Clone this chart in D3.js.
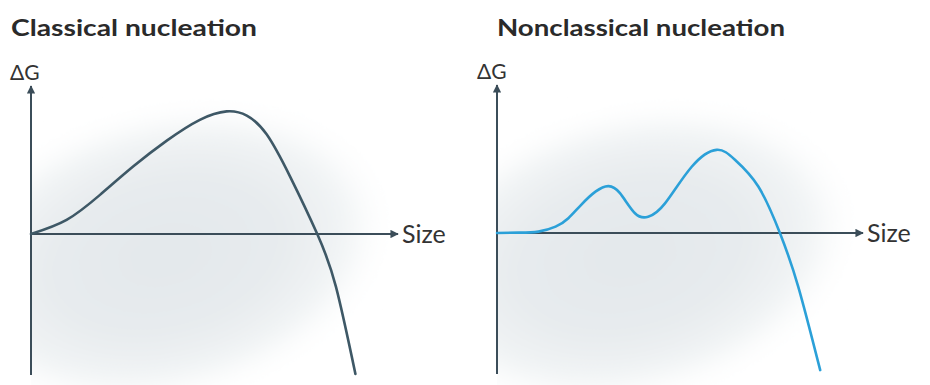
<!DOCTYPE html>
<html>
<head>
<meta charset="utf-8">
<script src="https://cdn.jsdelivr.net/npm/d3@7/dist/d3.min.js"></script>
<style>
  html, body { margin: 0; padding: 0; background: #fff; }
  svg { display: block; }
</style>
</head>
<body>
<svg id="chart" width="930" height="385"></svg>
<script>
// Panel titles and axis labels
const titles = ["Classical nucleation", "Nonclassical nucleation"];
const yLabel = "ΔG";
const xLabel = "Size";

// Classical nucleation: single free-energy barrier (size, ΔG)
const classicalSize = [0, 9.7, 18.8, 27.9, 37.0, 46.0, 53.3, 58.8, 64.2, 70.6, 78.0, 83.1, 88.4];
const classicalG    = [0, 4.0, 11.1, 19.2, 26.5, 32.4, 34.8, 33.6, 28.3, 16.3, 0, -15.0, -39.7];

// Nonclassical nucleation: intermediate state, then the main barrier (size, ΔG)
const nonclassicalSize = [0, 6.0, 11.3, 16.0, 19.5, 23.0, 27.0, 30.4, 33.6, 37.7, 41.3, 45.9, 53.2, 60.0, 65.0, 71.4, 77.3, 82.3, 88.3];
const nonclassicalG    = [0, 0.1, 0.4, 1.8, 4.2, 8.0, 11.8, 13.3, 11.3, 5.6, 4.6, 8.4, 18.8, 23.6, 20.8, 13.2, 0, -15.2, -38.9];

const sizeDomain = [0, 100];
const gDomain = [-40, 42];

const svg = d3.select("#chart");
const defs = svg.append("defs");

// soft haze behind each plot
const grad = defs.append("radialGradient").attr("id", "haze")
  .attr("cx", "50%").attr("cy", "50%").attr("r", "50%");
grad.append("stop").attr("offset", "0%").attr("stop-color", "#e3e8eb");
grad.append("stop").attr("offset", "50%").attr("stop-color", "#e7ebee");
grad.append("stop").attr("offset", "78%").attr("stop-color", "#f1f4f5");
grad.append("stop").attr("offset", "100%").attr("stop-color", "#ffffff").attr("stop-opacity", 0);
defs.append("filter").attr("id", "soft").attr("x", "-30%").attr("y", "-30%").attr("width", "160%").attr("height", "160%")
  .append("feGaussianBlur").attr("stdDeviation", 10);

const axisColor = "#3b4d59";
defs.append("marker").attr("id", "arrow")
  .attr("viewBox", "0 0 10 10").attr("refX", 9).attr("refY", 5)
  .attr("markerWidth", 4.2).attr("markerHeight", 4.2)
  .attr("markerUnits", "strokeWidth")
  .attr("orient", "auto")
  .append("path").attr("d", "M0,0 L10,5 L0,10 Z").attr("fill", axisColor);

const panels = [
  { id: "a", title: titles[0], titleX: 11, left: 31, right: 398, top: 86, bottom: 375, zero: 234,
    sizes: classicalSize, g: classicalG, color: "#3e5866",
    haze: { cx: 165, cy: 255, rx: 235, ry: 150 }, yLabX: 10, yLabY: 80, titleLen: 246 },
  { id: "b", title: titles[1], titleX: 497, left: 497, right: 863, top: 85, bottom: 374, zero: 233,
    sizes: nonclassicalSize, g: nonclassicalG, color: "#2ba0d8",
    haze: { cx: 630, cy: 255, rx: 235, ry: 150 }, yLabX: 477, yLabY: 79, titleLen: 288 }
];

panels.forEach(p => {
  const x = d3.scaleLinear().domain(sizeDomain).range([p.left, p.right]);
  // ΔG = 0 sits exactly on the horizontal axis
  const y = d3.scaleLinear().domain(gDomain)
    .range([p.zero + (-gDomain[0]) * (p.zero - p.top) / gDomain[1], p.top]);

  const g = svg.append("g");

  defs.append("clipPath").attr("id", "clip-" + p.id)
    .append("rect")
    .attr("x", x(0)).attr("y", 70)
    .attr("width", 440).attr("height", 315);

  g.append("g").attr("clip-path", `url(#clip-${p.id})`)
    .append("ellipse")
    .attr("cx", p.haze.cx).attr("cy", p.haze.cy)
    .attr("rx", p.haze.rx).attr("ry", p.haze.ry)
    .attr("transform", `rotate(-14 ${p.haze.cx} ${p.haze.cy})`)
    .attr("fill", "url(#haze)")
    .attr("filter", "url(#soft)");

  // title
  g.append("text")
    .attr("x", p.titleX).attr("y", 36)
    .attr("font-family", "Lato, 'Open Sans', sans-serif")
    .attr("font-weight", 700).attr("font-size", 22)
    .attr("fill", "#2a2a2a")
    .attr("textLength", p.titleLen).attr("lengthAdjust", "spacingAndGlyphs")
    .text(p.title);

  // axes
  g.append("line")
    .attr("x1", x(0)).attr("x2", x(0))
    .attr("y1", y(gDomain[0])).attr("y2", y(gDomain[1]))
    .attr("stroke", axisColor).attr("stroke-width", 2)
    .attr("marker-end", "url(#arrow)");
  g.append("line")
    .attr("x1", x(0)).attr("x2", x(sizeDomain[1]))
    .attr("y1", y(0)).attr("y2", y(0))
    .attr("stroke", axisColor).attr("stroke-width", 2)
    .attr("marker-end", "url(#arrow)");

  g.append("text")
    .attr("x", p.yLabX).attr("y", p.yLabY)
    .attr("font-family", "Lato, 'Open Sans', sans-serif")
    .attr("font-size", 21).attr("fill", "#333")
    .text(yLabel);
  g.append("text")
    .attr("x", x(sizeDomain[1]) + 4).attr("y", y(0) + 9)
    .attr("font-family", "Lato, 'Open Sans', sans-serif")
    .attr("font-size", 25).attr("fill", "#333")
    .text(xLabel);

  // free-energy curve
  const pts = p.sizes.map((s, i) => [s, p.g[i]]);
  const line = d3.line().x(d => x(d[0])).y(d => y(d[1])).curve(d3.curveNatural);
  g.append("path")
    .attr("d", line(pts))
    .attr("fill", "none")
    .attr("stroke", p.color)
    .attr("stroke-width", 2.6)
    .attr("stroke-linecap", "round");
});
</script>
</body>
</html>
